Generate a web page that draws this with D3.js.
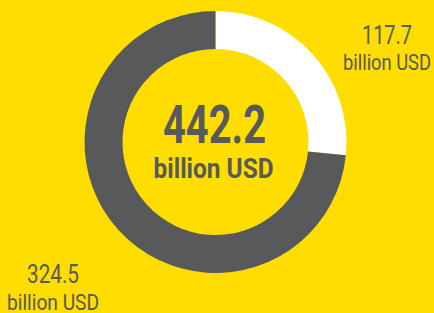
<!DOCTYPE html>
<html>
<head>
<meta charset="utf-8">
<script src="https://cdn.jsdelivr.net/npm/d3@7"></script>
<style>
  body { margin: 0; background: #FFDD00; }
  svg { display: block; }
  text { font-family: Roboto, "DejaVu Sans Condensed", sans-serif; fill: #58595B; }
</style>
</head>
<body>
<svg id="vis-svg"></svg>
<script>
/** * * * * DATA * * * */
const categories = ['Segment A', 'Segment B'];
const values = [117.7, 324.5];
const unitLabel = 'billion USD';
const totalLabel = '442.2';

/** * * * * CONSTANTS * * * */
const width = 434;
const height = 313;
const cx = 215.5;
const cy = 142;
const outerR = 131;
const innerR = 93;

function colorMap(i) {
  return i === 0 ? '#FFFFFF' : '#58595B';
}

let svg = d3.select('#vis-svg')
  .attr('width', width)
  .attr('height', height);

svg.append('rect')
  .attr('width', width)
  .attr('height', height)
  .attr('fill', '#FFDD00');

let pie = d3.pie().sort(null).value(function(d){return d;});
let arc = d3.arc().innerRadius(innerR).outerRadius(outerR);

let donut = svg.append('g')
  .attr('transform', `translate(${cx},${cy})`);

donut.selectAll('path')
  .data(pie(values))
  .enter()
  .append('path')
  .attr('d', arc)
  .attr('fill', function(d, i){return colorMap(i);});

// center total (condensed look via textLength)
donut.append('text')
  .attr('x', -1)
  .attr('y', 1)
  .attr('text-anchor', 'middle')
  .attr('textLength', 103)
  .attr('lengthAdjust', 'spacingAndGlyphs')
  .style('font-size', '53px')
  .style('font-weight', 'bold')
  .text(totalLabel);
donut.append('text')
  .attr('x', -2)
  .attr('y', 36)
  .attr('text-anchor', 'middle')
  .attr('textLength', 120)
  .attr('lengthAdjust', 'spacingAndGlyphs')
  .style('font-size', '27px')
  .style('font-weight', 'bold')
  .text(unitLabel);

// outside labels
let labelPos = [
  {x: 387, y: 44, y2: 70, w: 50, w2: 88},
  {x: 53, y: 283, y2: 310, w: 52, w2: 92}
];
values.forEach(function(v, i){
  svg.append('text')
    .attr('x', labelPos[i].x)
    .attr('y', labelPos[i].y)
    .attr('text-anchor', 'middle')
    .attr('textLength', labelPos[i].w)
    .attr('lengthAdjust', 'spacingAndGlyphs')
    .style('font-size', '26px')
    .text(v.toFixed(1));
  svg.append('text')
    .attr('x', labelPos[i].x)
    .attr('y', labelPos[i].y2)
    .attr('text-anchor', 'middle')
    .attr('textLength', labelPos[i].w2)
    .attr('lengthAdjust', 'spacingAndGlyphs')
    .style('font-size', '22px')
    .text(unitLabel);
});
</script>
</body>
</html>
